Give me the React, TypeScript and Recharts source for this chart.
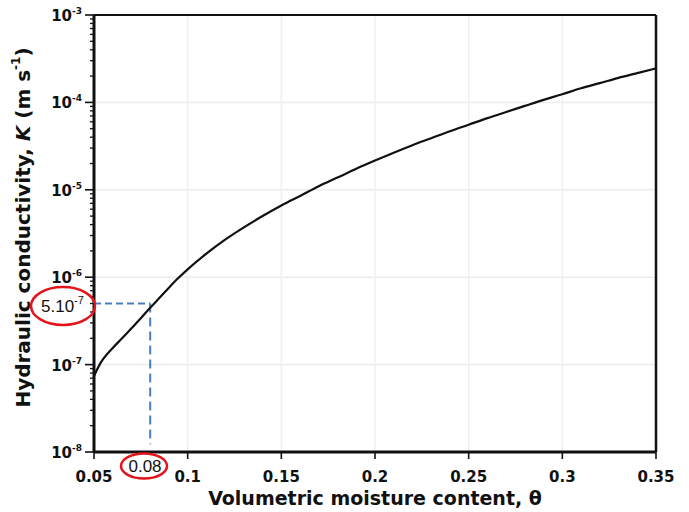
import React from 'react';
import { LineChart, Line, XAxis, YAxis, ReferenceLine } from 'recharts';

// Volumetric moisture content (θ)
const theta = [
  0.05, 0.053, 0.06, 0.065, 0.07, 0.075, 0.08, 0.085, 0.09, 0.095, 0.1, 0.11, 0.12, 0.13,
  0.14, 0.15, 0.16, 0.17, 0.18, 0.19, 0.2, 0.21, 0.22, 0.23, 0.24, 0.25, 0.26, 0.27, 0.28,
  0.29, 0.3, 0.31, 0.32, 0.33, 0.34, 0.35,
];
// Hydraulic conductivity K (m s^-1)
const conductivity = [
  7.41e-8, 1.0e-7, 1.55e-7, 2.0e-7, 2.6e-7, 3.39e-7, 4.47e-7, 5.82e-7, 7.59e-7, 9.77e-7,
  1.23e-6, 1.86e-6, 2.69e-6, 3.72e-6, 5.01e-6, 6.61e-6, 8.51e-6, 1.1e-5, 1.38e-5, 1.74e-5,
  2.16e-5, 2.66e-5, 3.24e-5, 3.89e-5, 4.68e-5, 5.56e-5, 6.61e-5, 7.76e-5, 9.12e-5, 1.07e-4,
  1.24e-4, 1.45e-4, 1.66e-4, 1.91e-4, 2.16e-4, 2.45e-4,
];

const xTicks = [0.05, 0.1, 0.15, 0.2, 0.25, 0.3, 0.35];
const xTickLabels = ['0.05', '0.1', '0.15', '0.2', '0.25', '0.3', '0.35'];
const yDecades = [1e-8, 1e-7, 1e-6, 1e-5, 1e-4, 1e-3];
const yDecadeExponents = ['-8', '-7', '-6', '-5', '-4', '-3'];
const minorMultipliers = [2, 3, 4, 5, 6, 7, 8, 9];

const annotationTheta = 0.08;
const annotationK = 5e-7;
const annotationKBase = '5.10';
const annotationKExp = '-7';
const annotationThetaLabel = '0.08';
const dashBottomK = 1.23e-8;

const data = theta.map((t, i) => ({ theta: t, k: conductivity[i] }));

const yTicks: number[] = [];
yDecades.forEach((d, i) => {
  yTicks.push(d);
  if (i < yDecades.length - 1) minorMultipliers.forEach((m) => yTicks.push(d * m));
});

const FONT = '"DejaVu Sans", "Liberation Sans", Arial, sans-serif';
const NOTE_FONT = '"Liberation Sans", Arial, sans-serif';

const YTick = (props: any) => {
  const { x, y, payload } = props;
  const v = payload.value as number;
  const idx = yDecades.findIndex((d) => Math.abs(d - v) / d < 1e-6);
  if (idx < 0) {
    return <line x1={x - 4} x2={x} y1={y} y2={y} stroke="#111" strokeWidth={1.3} />;
  }
  return (
    <g>
      <line x1={x - 9} x2={x} y1={y} y2={y} stroke="#111" strokeWidth={1.6} />
      <text x={x - 12} y={y + 6} textAnchor="end" fontFamily={FONT} fontWeight="bold" fontSize={15} fill="#111">
        10
        <tspan dy={-7} fontSize={9}>{yDecadeExponents[idx]}</tspan>
      </text>
    </g>
  );
};

const XTick = (props: any) => {
  const { x, y, payload, index } = props;
  return (
    <g>
      <line x1={x} x2={x} y1={y} y2={y + 7} stroke="#111" strokeWidth={1.6} />
      <text x={x} y={y + 30} textAnchor="middle" fontFamily={FONT} fontWeight="bold" fontSize={15} fill="#111">
        {xTickLabels[index] ?? String(payload.value)}
      </text>
    </g>
  );
};

const YLabel = (props: any) => {
  const vb = props.viewBox || { x: 0, y: 15, width: 94, height: 437 };
  const cx = 23;
  const cy = vb.y + vb.height / 2 - 6;
  return (
    <text
      x={cx}
      y={cy}
      transform={`rotate(-90 ${cx} ${cy})`}
      textAnchor="middle"
      dominantBaseline="central"
      fontFamily={FONT}
      fontWeight="bold"
      fontSize={20}
      fill="#111"
    >
      Hydraulic conductivity, <tspan fontStyle="italic">K</tspan> (m s
      <tspan dy={-7} fontSize={12}>-1</tspan>
      <tspan dy={7}>)</tspan>
    </text>
  );
};

const XLabel = (props: any) => {
  const vb = props.viewBox || { x: 94, y: 452, width: 562, height: 60 };
  return (
    <text
      x={vb.x + vb.width / 2}
      y={505}
      textAnchor="middle"
      fontFamily={FONT}
      fontWeight="bold"
      fontSize={19}
      fill="#111"
    >
      Volumetric moisture content, θ
    </text>
  );
};

export default function App() {
  return (
    <div style={{ position: 'absolute', left: 0, top: 0, width: 689, height: 512, background: '#fff' }}>
      <LineChart width={689} height={512} data={data} margin={{ top: 15, right: 33, bottom: 0, left: 0 }}>
        {yDecades.slice(1, -1).map((d) => (
          <ReferenceLine key={'g' + d} y={d} stroke="#ececec" strokeWidth={1.5} />
        ))}
        {xTicks.slice(1, -1).map((t) => (
          <ReferenceLine key={'v' + t} x={t} stroke="#f0f0f0" strokeWidth={1.5} />
        ))}
        <XAxis
          dataKey="theta"
          type="number"
          domain={[0.05, 0.35]}
          ticks={xTicks}
          allowDataOverflow
          height={60}
          tickSize={0}
          tickMargin={0}
          tickLine={false}
          axisLine={{ stroke: '#111', strokeWidth: 3 }}
          tick={<XTick />}
          interval={0}
          label={<XLabel />}
        />
        <YAxis
          dataKey="k"
          scale="log"
          type="number"
          domain={[1e-8, 1e-3]}
          ticks={yTicks}
          allowDataOverflow
          width={94}
          tickSize={0}
          tickMargin={0}
          tickLine={false}
          axisLine={{ stroke: '#111', strokeWidth: 3 }}
          tick={<YTick />}
          interval={0}
          label={<YLabel />}
        />
        <ReferenceLine y={1e-3} stroke="#111" strokeWidth={2} />
        <ReferenceLine x={0.35} stroke="#111" strokeWidth={2.5} />
        <ReferenceLine
          segment={[
            { x: 0.05, y: annotationK },
            { x: annotationTheta, y: annotationK },
          ]}
          stroke="#4a7ebb"
          strokeWidth={2}
          strokeDasharray="7 4"
        />
        <ReferenceLine
          segment={[
            { x: annotationTheta, y: annotationK },
            { x: annotationTheta, y: dashBottomK },
          ]}
          stroke="#4a7ebb"
          strokeWidth={2}
          strokeDasharray="9 5"
        />
        <Line
          type="monotone"
          dataKey="k"
          stroke="#111"
          strokeWidth={2.2}
          dot={false}
          isAnimationActive={false}
        />
      </LineChart>
      <svg width={689} height={512} style={{ position: 'absolute', left: 0, top: 0, pointerEvents: 'none' }}>
        <ellipse cx={63} cy={306} rx={32} ry={19} fill="none" stroke="#e3141b" strokeWidth={2.5} />
        <text x={41} y={312} fontFamily={NOTE_FONT} fontSize={17} fill="#111">
          {annotationKBase}
          <tspan dy={-8} fontSize={11}>{annotationKExp}</tspan>
        </text>
        <ellipse cx={144} cy={466} rx={23} ry={12.5} fill="none" stroke="#e3141b" strokeWidth={2.5} />
        <text x={145} y={472} textAnchor="middle" fontFamily={NOTE_FONT} fontSize={17} fill="#111">
          {annotationThetaLabel}
        </text>
      </svg>
    </div>
  );
}
